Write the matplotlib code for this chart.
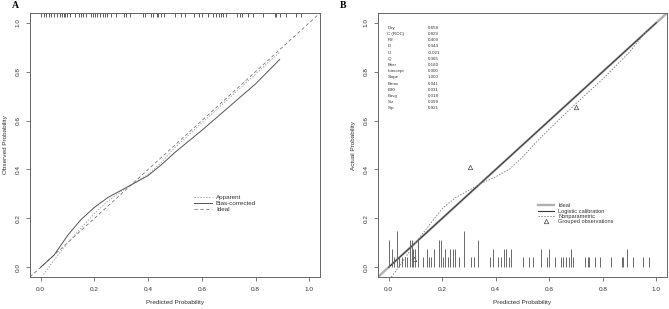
import matplotlib
matplotlib.use('Agg')
import matplotlib.pyplot as plt

plt.rcParams['font.family'] = ['Liberation Sans', 'DejaVu Sans']

# Panel A: calibration curves (bootstrap)
apparent_x = [0.01, 0.05, 0.10, 0.15, 0.20, 0.25, 0.30, 0.35, 0.40, 0.45, 0.50, 0.60, 0.70, 0.80, 0.89]
apparent_y = [-0.03, 0.03, 0.10, 0.16, 0.22, 0.27, 0.31, 0.345, 0.38, 0.43, 0.49, 0.59, 0.69, 0.79, 0.88]
bias_x = [0.00, 0.05, 0.10, 0.15, 0.20, 0.25, 0.30, 0.35, 0.40, 0.45, 0.50, 0.60, 0.70, 0.80, 0.89]
bias_y = [0.00, 0.05, 0.13, 0.195, 0.245, 0.285, 0.315, 0.345, 0.375, 0.42, 0.47, 0.56, 0.655, 0.75, 0.85]

# predicted probabilities (rug in A, spike histogram in B)
spike_x = [0.0, 0.011, 0.021, 0.03, 0.04, 0.05, 0.06, 0.07, 0.078, 0.087, 0.092, 0.099, 0.108,
           0.129, 0.142, 0.149, 0.159, 0.168, 0.189, 0.196, 0.202, 0.211, 0.22, 0.23, 0.239,
           0.246, 0.261, 0.28, 0.309, 0.319, 0.332, 0.38, 0.39, 0.41, 0.419, 0.432, 0.438,
           0.448, 0.458, 0.50, 0.524, 0.539, 0.57, 0.59, 0.60, 0.622, 0.643, 0.652, 0.663,
           0.672, 0.68, 0.69, 0.732, 0.743, 0.75, 0.771, 0.789, 0.829, 0.871, 0.877, 0.891,
           0.912, 0.949, 0.971]
spike_h = [0.11, 0.075, 0.04, 0.15, 0.04, 0.04, 0.04, 0.04, 0.11, 0.11, 0.075, 0.075, 0.11,
           0.04, 0.075, 0.04, 0.04, 0.075, 0.11, 0.11, 0.04, 0.075, 0.04, 0.075, 0.075,
           0.075, 0.04, 0.15, 0.04, 0.04, 0.11, 0.04, 0.075, 0.04, 0.04, 0.075, 0.075,
           0.04, 0.075, 0.04, 0.04, 0.04, 0.075, 0.04, 0.075, 0.04, 0.04, 0.04, 0.04,
           0.04, 0.075, 0.04, 0.04, 0.04, 0.04, 0.04, 0.04, 0.04, 0.04, 0.04, 0.075,
           0.04, 0.04, 0.04]

# Panel B: validation
logistic_x = [0.0, 0.25, 0.5, 0.75, 1.0]
logistic_y = [0.0, 0.25, 0.5, 0.75, 1.0]
nonpar_x = [0.01, 0.05, 0.10, 0.15, 0.20, 0.25, 0.30, 0.35, 0.40, 0.45, 0.50, 0.55, 0.60, 0.70, 0.80, 0.90, 0.97]
nonpar_y = [-0.04, 0.02, 0.10, 0.17, 0.24, 0.285, 0.315, 0.345, 0.37, 0.40, 0.45, 0.51, 0.565, 0.67, 0.77, 0.88, 0.975]
group_x = [0.093, 0.305, 0.70]
group_y = [0.033, 0.408, 0.657]

stat_names = ['Dxy', 'C (ROC)', 'R2', 'D', 'U', 'Q', 'Brier', 'Intercept', 'Slope',
              'Emax', 'E90', 'Eavg', 'S:z', 'S:p']
stat_values = ['0.658', '0.829', '0.409', '0.344', '-0.021', '0.365', '0.160', '0.000',
               '1.000', '0.041', '0.031', '0.018', '0.099', '0.921']

ticks = [0.0, 0.2, 0.4, 0.6, 0.8, 1.0]
ticklabels = ['0.0', '0.2', '0.4', '0.6', '0.8', '1.0']

txt = '#333333'
edge = '#666666'

fig = plt.figure(figsize=(6.69, 3.09), dpi=100)
axA = fig.add_axes([30/669, 32/309, 290/669, 264/309])
axB = fig.add_axes([378/669, 32/309, 289/669, 264/309])


def style(ax, ylabel):
    ax.set_xlim(-0.04, 1.04)
    ax.set_ylim(-0.04, 1.04)
    ax.set_xticks(ticks)
    ax.set_xticklabels(ticklabels)
    ax.set_yticks(ticks)
    ax.set_yticklabels(ticklabels, rotation=90, va='center')
    ax.tick_params(length=3, width=0.6, color=edge, labelsize=4.6, labelcolor=txt, pad=4)
    for s in ax.spines.values():
        s.set_color(edge)
        s.set_linewidth(0.7)
    ax.set_xlabel('Predicted Probability', fontsize=4.6, color=txt, labelpad=6)
    ax.set_ylabel(ylabel, fontsize=4.6, color=txt, labelpad=5)


# A
axA.axline((0, 0), (1, 1), color='#777777', lw=0.6, ls=(0, (4, 3)), label='Ideal')
axA.plot(apparent_x, apparent_y, color='#aaaaaa', lw=0.7, ls=(0, (1.5, 1.5)), label='Apparent')
axA.plot(bias_x, bias_y, color='#555555', lw=0.7, label='Bias-corrected')
axA.vlines(spike_x, 0.985, 1.0, transform=axA.get_xaxis_transform(), color='#444444', lw=0.6)
style(axA, 'Observed Probability')
h, l = axA.get_legend_handles_labels()
axA.legend([h[1], h[2], h[0]], [l[1], l[2], l[0]], loc='upper left', bbox_to_anchor=(0.555, 0.325),
           frameon=False, fontsize=4.5, handlelength=2.8, labelspacing=0.15, handletextpad=0.7,
           borderpad=0, labelcolor=txt)

# B
axB.axline((0, 0), (1, 1), color='#b0b0b0', lw=1.7, label='Ideal', zorder=1)
axB.plot(logistic_x, logistic_y, color='#3a3a3a', lw=0.8, label='Logistic calibration', zorder=2)
axB.plot(nonpar_x, nonpar_y, color='#888888', lw=0.7, ls=(0, (1.5, 1.5)), label='Nonparametric', zorder=2)
axB.plot(group_x, group_y, ls='none', marker='^', mfc='none', mec='#444444', ms=3.2, mew=0.5,
         label='Grouped observations')
axB.vlines(spike_x, 0, spike_h, color='#6a6a6a', lw=0.7)
style(axB, 'Actual Probability')
axB.legend(loc='upper left', bbox_to_anchor=(0.545, 0.29), frameon=False, fontsize=4.1,
           handlelength=2.8, labelspacing=0.05, handletextpad=0.7, borderpad=0, labelcolor=txt)

row_y = 0.98
for name, val in zip(stat_names, stat_values):
    axB.text(-0.005, row_y, name, fontsize=3.2, color=txt, va='center')
    axB.text(0.145, row_y, val, fontsize=3.2, color=txt, va='center')
    row_y -= 0.0254

fig.text(12/669, 1 - 6/309, 'A', fontsize=7, fontweight='bold', family='Liberation Serif', va='center')
fig.text(340/669, 1 - 6/309, 'B', fontsize=7, fontweight='bold', family='Liberation Serif', va='center')

fig.savefig('out.png', dpi=100)
